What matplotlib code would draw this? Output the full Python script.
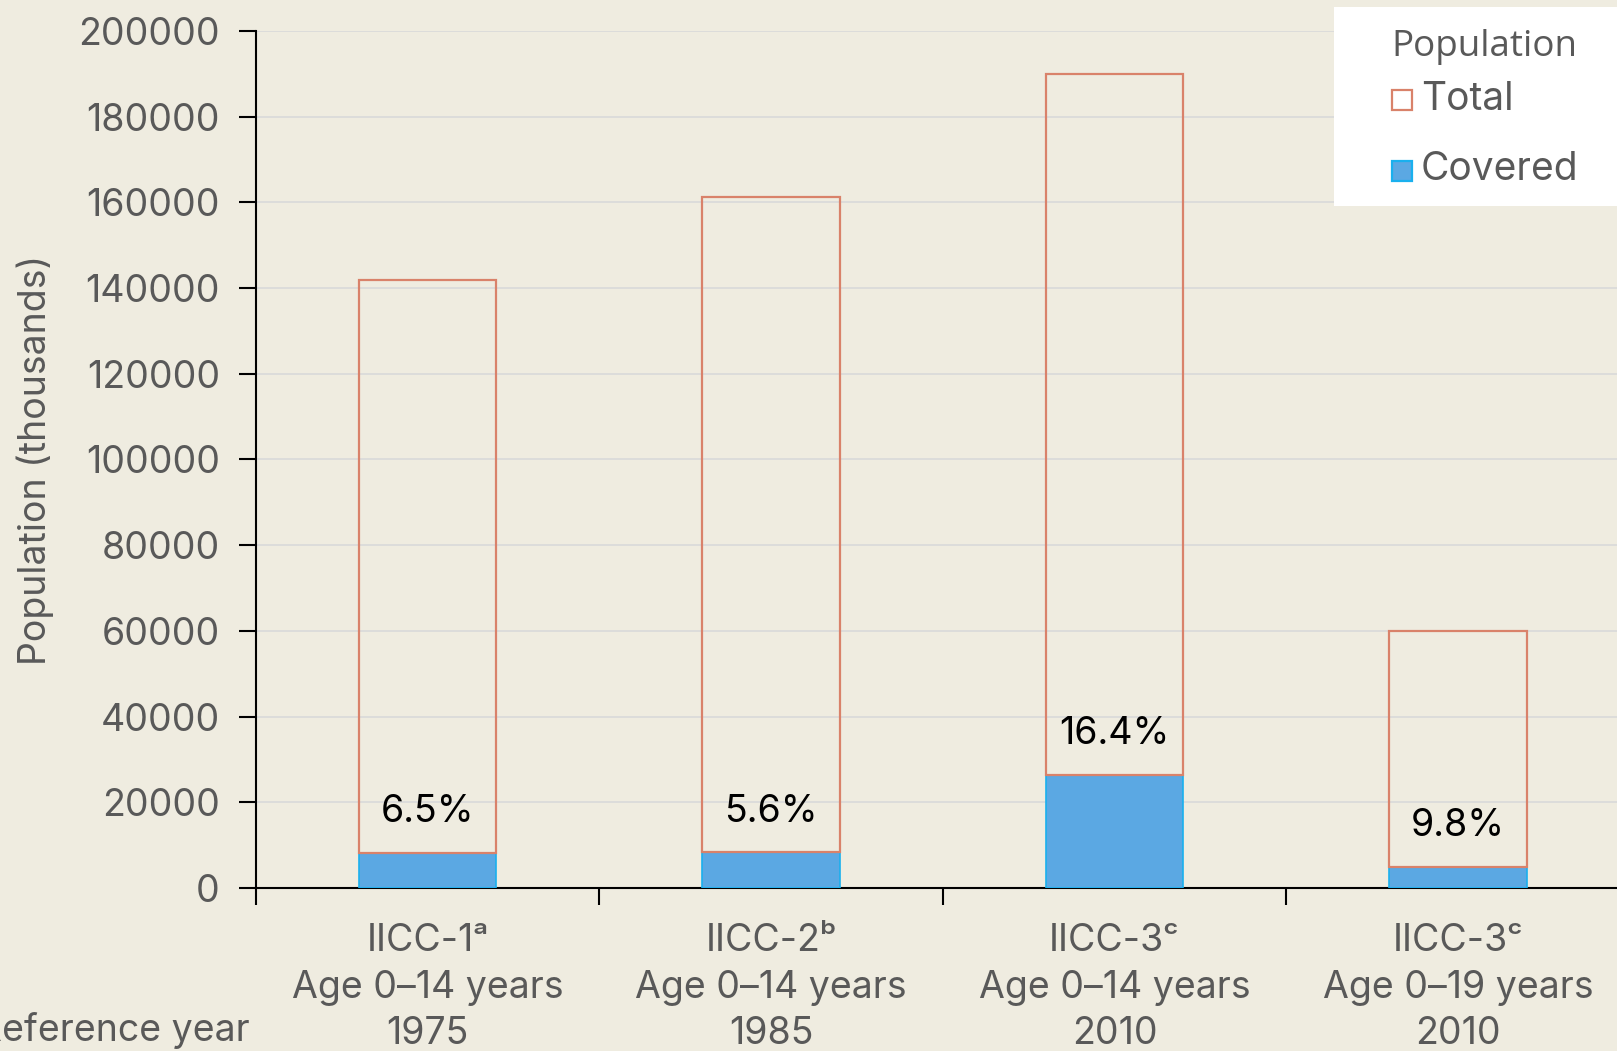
import matplotlib
matplotlib.use("Agg")
import matplotlib.pyplot as plt
from matplotlib.patches import Rectangle
import numpy as np

studies = ["IICC-1\u1d43", "IICC-2\u1d47", "IICC-3\u1d9c", "IICC-3\u1d9c"]
ages = ["Age 0\u201314 years", "Age 0\u201314 years", "Age 0\u201314 years", "Age 0\u201319 years"]
years = ["1975", "1985", "2010", "2010"]
total = [142000, 161300, 190000, 60000]
covered = [8250, 8300, 26450, 5000]
pct_labels = ["6.5%", "5.6%", "16.4%", "9.8%"]

BG = "#EFECE0"
GRAY = "#595959"
FONT = "Inter"
RED = "#D9826A"
BLUE = "#5BA8E3"
BLUE_EDGE = "#1AB0EE"
FS = 27

plt.rcParams["font.family"] = [FONT, "DejaVu Sans"]

W, H = 1617, 1051
fig = plt.figure(figsize=(W / 100, H / 100), dpi=100, facecolor=BG)
ax = fig.add_axes([0.1583, 0.1551, 0.8495, 0.8154], facecolor=BG)

x = np.arange(len(total))
w = 0.4
ax.bar(x, covered, width=w, color=BLUE, edgecolor=BLUE_EDGE, linewidth=1.2, zorder=3)
remain = [t - c for t, c in zip(total, covered)]
ax.bar(x, remain, bottom=covered, width=w, facecolor="none", edgecolor=RED, linewidth=1.6, zorder=3)

for xi, c, lab in zip(x, covered, pct_labels):
    ax.text(xi, c + 9500, lab, ha="center", va="center", fontsize=FS, color="black", zorder=4)

ax.set_xlim(-0.5, 3.5)
ax.set_ylim(0, 200000)
ax.set_yticks(np.arange(0, 200001, 20000))
ax.set_yticklabels([str(v) for v in range(0, 200001, 20000)])
ax.yaxis.grid(True, color="#D9D9D9", linewidth=1.2, zorder=0)
ax.set_axisbelow(True)

ax.set_xticks(np.arange(-0.5, 3.6, 1.0))
ax.set_xticklabels([])
ax.tick_params(axis="x", which="major", length=12, width=1.5, direction="out", color="black")
ax.tick_params(axis="y", length=12, width=1.5, direction="out", color="black", labelsize=FS,
               labelcolor=GRAY, pad=14)

xt = ax.get_xaxis_transform()
for xi, s, a, yv in zip(x, studies, ages, years):
    ax.text(xi, -0.0618, s, transform=xt, ha="center", va="center", fontsize=FS, color=GRAY, clip_on=False)
    ax.text(xi, -0.1167, a, transform=xt, ha="center", va="center", fontsize=FS, color=GRAY, clip_on=False)
    ax.text(xi, -0.1704, yv, transform=xt, ha="center", va="center", fontsize=FS, color=GRAY, clip_on=False)

for s in ["top", "right"]:
    ax.spines[s].set_visible(False)
for s in ["left", "bottom"]:
    ax.spines[s].set_linewidth(1.5)
    ax.spines[s].set_color("black")

ax.set_ylabel("Population (thousands)", fontsize=FS, color=GRAY)
ax.yaxis.set_label_coords(-0.147, 0.5)

fig.text(250 / W, 1 - 1031 / H, "Reference year", ha="right", va="center", fontsize=FS, color=GRAY)

# legend (drawn as figure artists)
fig.patches.append(Rectangle((1334 / W, 1 - 206 / H), 0.2, 199 / H, transform=fig.transFigure,
                             facecolor="white", edgecolor="none", zorder=5))
fig.text(1391 / W, 1 - 47 / H, "Population", ha="left", va="center", fontsize=26.5,
         family=["Open Sans", "DejaVu Sans"], color=GRAY, zorder=6)
fig.patches.append(Rectangle((1392 / W, 1 - 110 / H), 20 / W, 20 / H, transform=fig.transFigure,
                             facecolor="white", edgecolor=RED, linewidth=1.6, zorder=6))
fig.patches.append(Rectangle((1392 / W, 1 - 181 / H), 20 / W, 20 / H, transform=fig.transFigure,
                             facecolor=BLUE, edgecolor=BLUE_EDGE, linewidth=1.6, zorder=6))
fig.text(1421 / W, 1 - 100 / H, "Total", ha="left", va="center", fontsize=28, color=GRAY, zorder=6)
fig.text(1421 / W, 1 - 170 / H, "Covered", ha="left", va="center", fontsize=28, color=GRAY, zorder=6)

fig.savefig("out.png", dpi=100, facecolor=BG)
